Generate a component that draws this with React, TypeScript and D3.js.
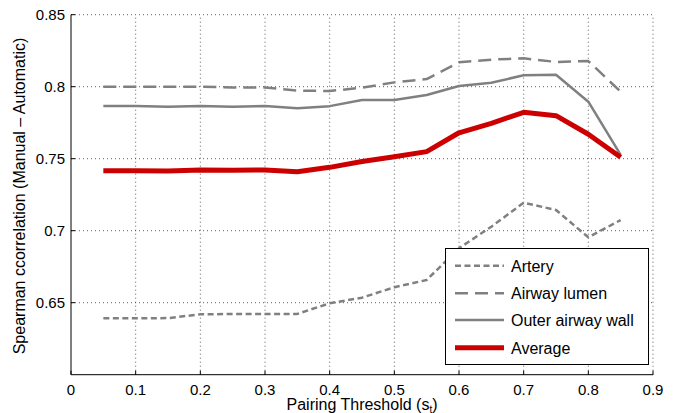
import React from 'react'
import * as d3 from 'd3'

// Pairing threshold values (x)
const thresholds = [0.05, 0.1, 0.15, 0.2, 0.25, 0.3, 0.35, 0.4, 0.45, 0.5, 0.55, 0.6, 0.65, 0.7, 0.75, 0.8, 0.85]

const artery = [0.6392, 0.6392, 0.6393, 0.6419, 0.6422, 0.6422, 0.6422, 0.6496, 0.6535, 0.6607, 0.6658, 0.6878, 0.7028, 0.7194, 0.7144, 0.6954, 0.7074]
const airwayLumen = [0.8, 0.8, 0.8, 0.8, 0.7995, 0.7995, 0.7973, 0.797, 0.7993, 0.803, 0.8053, 0.8169, 0.8188, 0.8197, 0.8172, 0.8178, 0.7965]
const outerWall = [0.7866, 0.7866, 0.7861, 0.7866, 0.786, 0.7866, 0.785, 0.7865, 0.7908, 0.7908, 0.7942, 0.8005, 0.8028, 0.8079, 0.8083, 0.7896, 0.7526]
const average = [0.7417, 0.7417, 0.7415, 0.7421, 0.742, 0.7422, 0.741, 0.744, 0.748, 0.7514, 0.7549, 0.768, 0.7746, 0.7822, 0.7799, 0.767, 0.751]

const xTicks = [0, 0.1, 0.2, 0.3, 0.4, 0.5, 0.6, 0.7, 0.8, 0.9]
const yTicks = [0.65, 0.7, 0.75, 0.8, 0.85]

const series = [
  { label: 'Artery', values: artery, color: '#808080', width: 2.5, dash: '6,3.5' },
  { label: 'Airway lumen', values: airwayLumen, color: '#808080', width: 2.5, dash: '13,7' },
  { label: 'Outer airway wall', values: outerWall, color: '#808080', width: 2.5, dash: null },
  { label: 'Average', values: average, color: '#cc0000', width: 5, dash: null },
]

const W = 680
const H = 413
const M = { left: 71, right: 27, top: 14.7, bottom: 38.3 }
const FONT = '"Liberation Sans", Arial, Helvetica, sans-serif'

export default function App() {
  const x = d3.scaleLinear().domain([0, 0.9]).range([M.left, W - M.right])
  const y = d3.scaleLinear().domain([0.6, 0.85]).range([H - M.bottom, M.top])
  const line = d3.line<number>()
    .x((_, i) => x(thresholds[i]))
    .y((d) => y(d))

  const x0 = x(0), x1 = x(0.9), y0 = y(0.6), y1 = y(0.85)
  const grid = { stroke: '#333', strokeWidth: 0.8, strokeDasharray: '1,3' }

  // legend
  const lg = { x: 445.5, y: 248.5, w: 203, h: 116 }
  const rowY = [265.7, 293.3, 320, 347.7]

  return (
    <div style={{ position: 'absolute', left: 0, top: 0 }}>
      <svg width={W} height={H} style={{ display: 'block', background: '#fff' }} fontFamily={FONT}>
        {/* Grid */}
        {xTicks.filter((t) => t > 0).map((t) => (
          <line key={'gx' + t} x1={x(t)} x2={x(t)} y1={y0} y2={y1} {...grid} />
        ))}
        {yTicks.map((t) => (
          <line key={'gy' + t} x1={x0} x2={x1} y1={y(t)} y2={y(t)} {...grid} />
        ))}

        {/* Series */}
        {series.map((s) => (
          <path key={s.label} d={line(s.values) ?? ''} fill="none" stroke={s.color}
            strokeWidth={s.width} strokeDasharray={s.dash ?? undefined} strokeLinejoin="round" />
        ))}

        {/* Axes */}
        <line x1={x0} x2={x1} y1={y0} y2={y0} stroke="#000" strokeWidth={1} />
        <line x1={x0} x2={x0} y1={y0} y2={y1} stroke="#000" strokeWidth={1} />
        {xTicks.map((t) => (
          <g key={'tx' + t}>
            <line x1={x(t)} x2={x(t)} y1={y0} y2={y0 - 4} stroke="#000" />
            <text x={x(t)} y={395} textAnchor="middle" fontSize={15}>{d3.format('')(t)}</text>
          </g>
        ))}
        {yTicks.map((t) => (
          <g key={'ty' + t}>
            <line x1={x0} x2={x0 + 4} y1={y(t)} y2={y(t)} stroke="#000" />
            <text x={65} y={y(t) + 5.5} textAnchor="end" fontSize={15}>{d3.format('')(t)}</text>
          </g>
        ))}

        {/* Axis labels */}
        <text x={362} y={410} textAnchor="middle" fontSize={16}>
          Pairing Threshold (s<tspan fontSize={10} dy={3}>t</tspan><tspan dy={-3}>)</tspan>
        </text>
        <text transform="translate(25,196) rotate(-90)" textAnchor="middle" fontSize={16}>
          Spearman ccorrelation (Manual – Automatic)
        </text>

        {/* Legend */}
        <rect x={lg.x} y={lg.y} width={lg.w} height={lg.h} fill="#fff" stroke="#000" strokeWidth={1} />
        {series.map((s, i) => (
          <g key={'lg' + s.label}>
            <line x1={455} x2={504} y1={rowY[i]} y2={rowY[i]} stroke={s.color}
              strokeWidth={s.width} strokeDasharray={s.dash ?? undefined} />
            <text x={511} y={rowY[i] + 6} fontSize={16}>{s.label}</text>
          </g>
        ))}
      </svg>
    </div>
  )
}
